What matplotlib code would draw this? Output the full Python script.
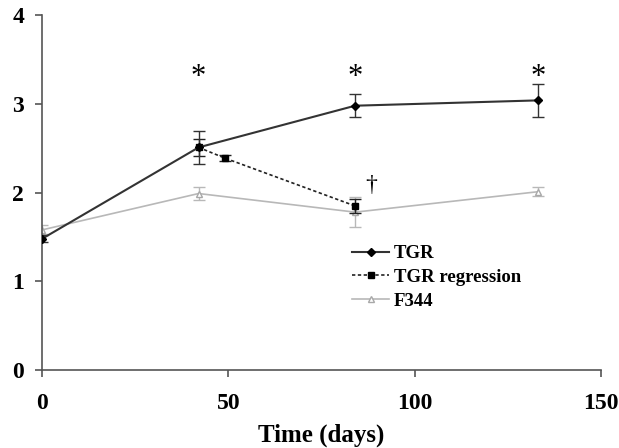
import matplotlib
matplotlib.use('Agg')
import matplotlib.pyplot as plt
from matplotlib.lines import Line2D

# time points (days) and mean values with SEM
tgr_days = [0, 42, 84, 133]
tgr_mean = [1.48, 2.51, 2.98, 3.04]
tgr_err = [0.04, 0.19, 0.13, 0.19]

reg_days = [42, 49, 84]
reg_mean = [2.51, 2.39, 1.85]
reg_err = [0.10, 0.03, 0.08]

f344_days = [0, 42, 84, 133]
f344_mean = [1.58, 1.99, 1.78, 2.01]
f344_err = [0.05, 0.07, 0.17, 0.05]

star_days = [42, 84, 133]
star_y = 3.30
dagger_day = 88.2
dagger_y = 2.08

plt.rcParams['font.family'] = ['Liberation Serif', 'DejaVu Serif']
plt.rcParams['font.weight'] = 'bold'

fig = plt.figure(figsize=(6.19, 4.48), dpi=100)
ax = fig.add_axes([0.068, 0.174, 0.903, 0.792])

sty_f344 = dict(color='#b8b8b8', lw=1.2, marker='^', ms=5, mfc='white', mec='#a8a8a8')
sty_reg = dict(color='#222222', lw=1.2, ls=(0, (2, 1.5)), marker='s', ms=5, mfc='black', mec='black')
sty_tgr = dict(color='#333333', lw=1.5, marker='D', ms=4, mfc='black', mec='black')

ax.errorbar(f344_days, f344_mean, yerr=f344_err, capsize=4, elinewidth=1, zorder=2, **sty_f344)
ax.errorbar(reg_days, reg_mean, yerr=reg_err, capsize=4, elinewidth=1, zorder=3, **sty_reg)
ax.errorbar(tgr_days, tgr_mean, yerr=tgr_err, capsize=4, elinewidth=1, zorder=4, **sty_tgr)

for d in star_days:
    ax.text(d, star_y, '*', ha='center', va='center', fontsize=22, fontweight='normal')
ax.text(dagger_day, dagger_y, '\u2020', ha='center', va='center', fontsize=17, fontweight='normal')

ax.set_xlim(0, 150)
ax.set_ylim(0, 4)
ax.set_xticks([0, 50, 100, 150])
ax.set_yticks([0, 1, 2, 3, 4])
ax.set_xlabel('Time (days)', fontsize=18, fontweight='bold', labelpad=7)
for s in ['top', 'right']:
    ax.spines[s].set_visible(False)
for s in ['left', 'bottom']:
    ax.spines[s].set_color('#555555')
    ax.spines[s].set_linewidth(1.2)
ax.tick_params(labelsize=17, colors='#555555', length=5, width=1.2)
ax.tick_params(axis='x', pad=11.5)
ax.tick_params(axis='y', pad=8)
for lbl in ax.get_xticklabels() + ax.get_yticklabels():
    lbl.set_color('black')
    lbl.set_fontweight('bold')

handles = [Line2D([], [], **sty_tgr), Line2D([], [], **sty_reg), Line2D([], [], **sty_f344)]
labels = ['TGR', 'TGR regression', 'F344']
ax.legend(handles, labels, loc='upper left', bbox_to_anchor=(0.554, 0.352),
          frameon=False, fontsize=13.5, handlelength=2.0, handletextpad=0.25,
          labelspacing=0.35, borderpad=0, borderaxespad=0)

fig.savefig('out.png', dpi=100)
